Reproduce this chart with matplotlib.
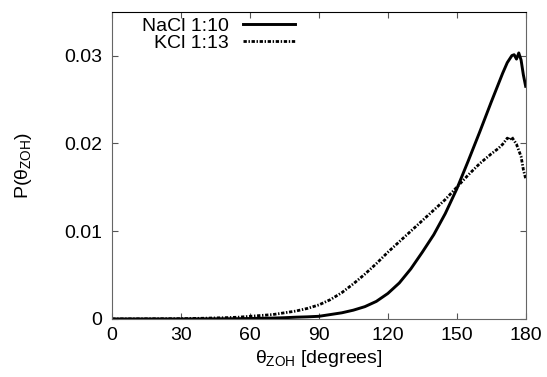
#!/usr/bin/env python3
# -*- coding: utf-8 -*-

import matplotlib
matplotlib.use('Agg')
import matplotlib.pyplot as plt

# angle distribution P(theta_ZOH)
theta_nacl = [0, 10, 20, 30, 40, 50, 55, 60, 65, 70, 75, 80, 85, 90, 95, 100, 105, 110,
              115, 120, 125, 130, 135, 140, 145, 150, 155, 160, 165, 170, 172, 174,
              175, 176, 177, 178, 179, 180]
p_nacl = [0.0, 0.0, 0.0, 0.0, 0.00001, 0.00002, 0.00003, 0.00005, 0.00008, 0.0001,
          0.00014, 0.0002, 0.00024, 0.0003, 0.0005, 0.0007, 0.0010, 0.0014,
          0.0020, 0.0029, 0.0041, 0.0057, 0.0076, 0.0096, 0.0120, 0.0148,
          0.0180, 0.0213, 0.0247, 0.0280, 0.0292, 0.0300,
          0.0301, 0.0296, 0.0303, 0.0295, 0.0278, 0.0265]

theta_kcl = [0, 10, 20, 30, 40, 50, 55, 60, 65, 70, 75, 80, 85, 90, 95, 100, 105, 110,
             115, 120, 125, 130, 135, 140, 145, 150, 155, 160, 165, 168, 170, 172,
             173, 174, 175, 176, 177, 178, 179, 180]
p_kcl = [0.0, 0.00001, 0.00002, 0.00003, 0.00008, 0.00015, 0.0002, 0.0003, 0.0004,
         0.0005, 0.0007, 0.0009, 0.0012, 0.0016, 0.0022, 0.0030, 0.0040, 0.0051,
         0.0063, 0.0076, 0.0088, 0.0100, 0.0112, 0.0124, 0.0136, 0.0150,
         0.0164, 0.0177, 0.0188, 0.0194, 0.0199, 0.0206,
         0.0204, 0.0207, 0.0203, 0.0199, 0.0192, 0.0185, 0.0170, 0.0160]

xticks = [0, 30, 60, 90, 120, 150, 180]
yticks = [0, 0.01, 0.02, 0.03]
ytick_labels = ['0', '0.01', '0.02', '0.03']

plt.rcParams['font.family'] = ['Liberation Sans', 'DejaVu Sans']
plt.rcParams['mathtext.fontset'] = 'custom'
plt.rcParams['mathtext.rm'] = 'Liberation Sans'
plt.rcParams['mathtext.it'] = 'Liberation Sans'

fig = plt.figure(figsize=(5.47, 3.77), dpi=100)
ax = fig.add_axes([0.205, 0.154, 0.756, 0.815])

ax.plot(theta_nacl, p_nacl, color='black', lw=2.1, label='NaCl 1:10')
ax.plot(theta_kcl, p_kcl, color='black', lw=2.0, ls=(0, (1.2, 0.6, 0.5, 0.6)), label='KCl 1:13')

ax.set_xlim(0, 180)
ax.set_ylim(0, 0.035)
ax.set_xticks(xticks)
ax.set_yticks(yticks)
ax.set_yticklabels(ytick_labels)
ax.tick_params(direction='in', length=4, width=0.8, labelsize=14, pad=7,
               top=True, right=True, colors='#555555', labelcolor='black')
ax.tick_params(axis='x', pad=6)

for side in ['left', 'right', 'bottom']:
    ax.spines[side].set_color('#666666')
ax.spines['top'].set_color('black')

ax.set_xlabel(r'$\theta_{\rm ZOH}$ [degrees]', fontsize=14, labelpad=3)
ax.set_ylabel(r'P($\theta_{\rm ZOH}$)', fontsize=14, labelpad=22)

ax.legend(loc='upper left', bbox_to_anchor=(0.03, 1.04), markerfirst=False, frameon=False,
          fontsize=14, handlelength=2.7, handletextpad=0.7, labelspacing=0.0)

fig.savefig('out.png', dpi=100)
